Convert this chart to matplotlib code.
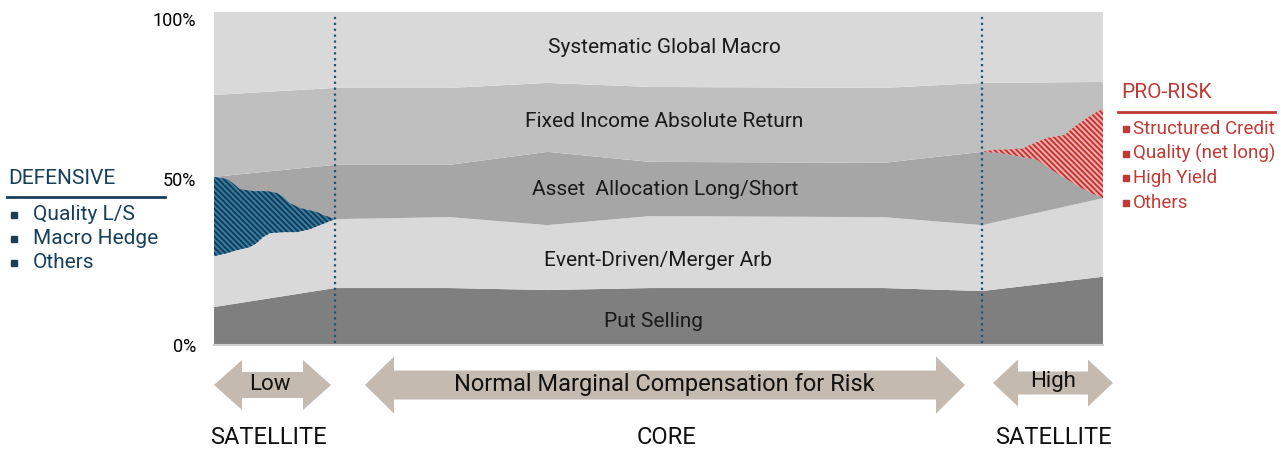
import numpy as np
import matplotlib
matplotlib.use('Agg')
import matplotlib.pyplot as plt
from matplotlib.patches import Polygon

plt.rcParams['font.family'] = ['Roboto', 'DejaVu Sans']
plt.rcParams['hatch.linewidth'] = 1.3

# position along the risk-compensation axis (0 = low, 100 = high)
x_pts = [0, 13.6, 26.5, 37.5, 49.0, 75.3, 86.4, 100]

# layer sizes (% of portfolio), bottom to top
layer_names = ['Put Selling', 'Event-Driven/Merger Arb', 'Asset  Allocation Long/Short',
               'Fixed Income Absolute Return', 'Systematic Global Macro']
put_selling = [11.4, 17.1, 17.1, 16.5, 17.1, 17.1, 16.2, 20.5]
event_driven = [23.6, 20.7, 21.3, 19.5, 21.6, 21.3, 19.8, 23.6]
asset_alloc = [15.5, 16.3, 15.7, 22.0, 16.3, 16.3, 22.0, 17.9]
fixed_income = [24.6, 23.1, 23.1, 20.7, 22.5, 22.5, 20.7, 17.0]
sys_macro = [24.9, 22.8, 22.8, 21.3, 22.5, 22.8, 21.3, 21.0]

# satellite overlays (outline: x, top edge, bottom edge)
def_x = [0, 1.5, 2.1, 2.9, 4.4, 6.0, 7.1, 7.8, 8.5, 9.7, 11.6, 12.3, 13.6]
def_top = [50.5, 49.8, 48.6, 46.8, 46.2, 46.2, 45.6, 44.4, 42.6, 41.1, 39.9, 39.0, 37.8]
def_bx = [0, 1.5, 2.6, 4.0, 4.8, 5.5, 6.3, 7.8, 9.3, 10.8, 11.9, 13.6]
def_bot = [26.7, 27.6, 28.5, 29.4, 30.6, 32.4, 33.6, 33.9, 33.9, 34.8, 36.0, 37.8]
pro_x = [86.4, 87.6, 90.9, 91.8, 93.7, 95.7, 96.6, 98.2, 99.3, 100]
pro_top = [58.0, 58.6, 58.9, 60.1, 62.2, 63.1, 65.2, 68.2, 70.0, 70.9]
pro_bx = [86.4, 88.4, 90.9, 92.6, 93.7, 95.5, 97.4, 98.5, 100]
pro_bot = [58.0, 57.7, 56.5, 55.6, 53.5, 50.5, 47.4, 45.9, 44.1]

core_bounds = [13.6, 86.4]
def_items = ['Quality L/S', 'Macro Hedge', 'Others']
pro_items = ['Structured Credit', 'Quality (net long)', 'High Yield', 'Others']

layer_colors = ['#7f7f7f', '#d9d9d9', '#a6a6a6', '#bfbfbf', '#d9d9d9']
BLUE = '#17405c'
RED = '#be3a34'
TAUPE = '#c4bab0'

fig = plt.figure(figsize=(12.87, 4.53), dpi=100)
ax = fig.add_axes([214 / 1287, 108 / 453, 889 / 1287, 333 / 453])

ax.stackplot(x_pts, put_selling, event_driven, asset_alloc, fixed_income, sys_macro,
             colors=layer_colors, linewidth=0)

ax.fill(def_x + def_bx[::-1], def_top + def_bot[::-1], facecolor='#3a7a9e',
        edgecolor='#0d3a55', hatch='\\' * 6, linewidth=0, zorder=3)
ax.fill(pro_x + pro_bx[::-1], pro_top + pro_bot[::-1], facecolor='#f2aaaa',
        edgecolor='#c0302c', hatch='\\' * 6, linewidth=0, zorder=3)

for xb in core_bounds:
    ax.plot([xb, xb], [0.5, 99], color='#1f5473', linestyle=':', linewidth=1.6, zorder=4)

label_x = [49.4, 49.9, 50.7, 50.6, 50.7]
label_y = [7.2, 25.5, 46.6, 67.0, 89.2]
for name, lx, ly in zip(layer_names, label_x, label_y):
    ax.text(lx, ly, name, ha='center', va='center', fontsize=15, color='#1a1a1a', zorder=5)

ax.set_xlim(0, 100)
ax.set_ylim(0, 100)
ax.set_xticks([])
ax.set_yticks([0, 50, 100])
ax.set_yticklabels(['0%', '50%', '100%'], fontsize=13)
ax.tick_params(axis='y', length=0, pad=13)
ax.get_yticklabels()[2].set_va('top')
for s in ['top', 'right', 'left']:
    ax.spines[s].set_visible(False)
ax.spines['bottom'].set_color('#d0d0d0')
ax.spines['bottom'].set_linewidth(1.5)

# overlay in figure pixels for side legends and the arrow band
ov = fig.add_axes([0, 0, 1, 1])
ov.set_xlim(0, 1287)
ov.set_ylim(453, 0)
ov.axis('off')
ov.patch.set_alpha(0)

ov.text(8, 179, 'DEFENSIVE', fontsize=15, color=BLUE, va='center', ha='left')
ov.plot([7, 165], [197, 197], color=BLUE, linewidth=2)
for i, item in enumerate(def_items):
    yy = 215 + i * 24
    ov.plot(13.5, yy, marker='s', markersize=4.5, color=BLUE)
    ov.text(33, yy, item, fontsize=15, color=BLUE, va='center', ha='left')

ov.text(1121, 93, 'PRO-RISK', fontsize=15, color=RED, va='center', ha='left')
ov.plot([1118, 1275], [112, 112], color=RED, linewidth=2)
for i, item in enumerate(pro_items):
    yy = 129 + i * 24.7
    ov.plot(1125.5, yy, marker='s', markersize=4.5, color=RED)
    ov.text(1133, yy, item, fontsize=13.5, color=RED, va='center', ha='left')


def double_arrow(x0, x1, yc, head_h, shaft_h, head_len):
    return [(x0, yc), (x0 + head_len, yc - head_h / 2), (x0 + head_len, yc - shaft_h / 2),
            (x1 - head_len, yc - shaft_h / 2), (x1 - head_len, yc - head_h / 2), (x1, yc),
            (x1 - head_len, yc + head_h / 2), (x1 - head_len, yc + shaft_h / 2),
            (x0 + head_len, yc + shaft_h / 2), (x0 + head_len, yc + head_h / 2)]


arrows = [
    (214, 331, 385, 50, 26, 28, 'Low', 270, 16),
    (365, 965, 385, 57, 29, 29, 'Normal Marginal Compensation for Risk', 664, 17),
    (993, 1113, 383, 47, 23, 25, 'High', 1053, 16),
]
for x0, x1, yc, hh, sh, hl, txt, tx, fs in arrows:
    ov.add_patch(Polygon(double_arrow(x0, x1, yc, hh, sh, hl), closed=True,
                         facecolor=TAUPE, edgecolor='none'))
    ov.text(tx, yc - 1, txt, fontsize=fs, color='#111111', ha='center', va='center')

for tx, txt in [(268, 'SATELLITE'), (666, 'CORE'), (1053, 'SATELLITE')]:
    ov.text(tx, 438, txt, fontsize=17, color='#111111', ha='center', va='center')

fig.savefig('out.png', dpi=100)
